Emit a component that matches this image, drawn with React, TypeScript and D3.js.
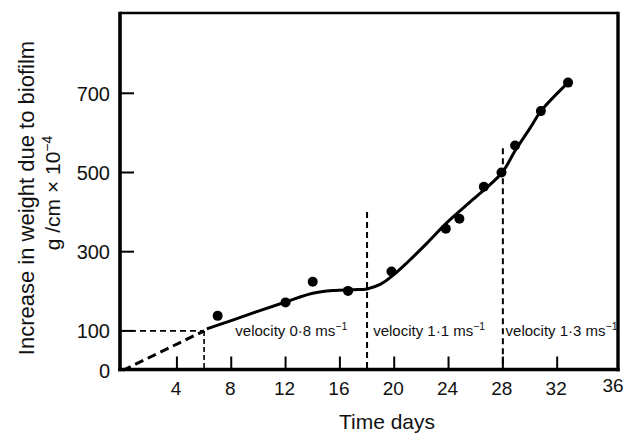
import React from "react";
import * as d3 from "d3";

// Measured data points (day, increase in weight g/cm x 10^-4)
const pointDays = [7, 12, 14, 16.6, 19.8, 23.8, 24.8, 26.6, 27.9, 28.9, 30.8, 32.8];
const pointWeights = [138, 172, 224, 201, 250, 358, 383, 464, 500, 568, 655, 727];

// Smooth fitted curve
const curveDays = [6.2, 8, 10, 12, 14, 15.5, 17, 18, 19, 20, 21, 22.4, 23.9, 25.8, 27.9, 28.9, 30, 30.8, 32.8];
const curveWeights = [105, 126, 150, 173, 195, 202, 204, 206, 218, 243, 274, 321, 374, 432, 498, 555, 612, 655, 727];

// Extrapolated start (dashed)
const startDays = [0, 6];
const startWeights = [0, 100];

// Velocity change boundaries
const boundaryDays = [18, 28];
const boundaryTops = [400, 561];

const xTickValues = [4, 8, 12, 16, 20, 24, 28, 32];
const xTickLabels = [4, 8, 12, 16, 20, 24, 28, 32, 36];
const yTickValues = [100, 300, 500, 700];
const yTickLabels = [0, 100, 300, 500, 700];

const velocityLabels = ["velocity 0·8 ms", "velocity 1·1 ms", "velocity 1·3 ms"];
const velocityDays = [8.3, 18.45, 28.2];

const W = 637;
const H = 438;
const FONT = "'Liberation Sans', Arial, Helvetica, sans-serif";

export default function App() {
  const x = d3.scaleLinear().domain([0, 36]).range([122.6, 611.5]);
  const y = d3.scaleLinear().domain([0, 700]).range([370.5, 93.3]);

  const frame = { left: 120, right: 618, top: 13, bottom: 369.5 };

  const curve = d3
    .line<number>()
    .x((_, i) => x(curveDays[i]))
    .y((d) => y(d))
    .curve(d3.curveCatmullRom.alpha(0.5));

  const startLine = d3
    .line<number>()
    .x((_, i) => x(startDays[i]))
    .y((d) => y(d));

  return (
    <svg
      width={W}
      height={H}
      style={{ position: "absolute", left: 0, top: 0, background: "#fff" }}
      fontFamily={FONT}
    >
      <rect x={0} y={0} width={W} height={H} fill="#fff" />

      {/* frame */}
      <line x1={frame.left} y1={frame.top} x2={frame.right} y2={frame.top} stroke="#000" strokeWidth={2.6} />
      <line x1={frame.right} y1={frame.top - 1.3} x2={frame.right} y2={frame.bottom + 1.8} stroke="#000" strokeWidth={3.4} />
      <line x1={frame.left} y1={frame.top - 1.3} x2={frame.left} y2={frame.bottom + 1.8} stroke="#000" strokeWidth={3.6} />
      <line x1={frame.left - 1.8} y1={frame.bottom} x2={frame.right + 1.7} y2={frame.bottom} stroke="#000" strokeWidth={3.6} />

      {/* y ticks */}
      {yTickValues.map((v) => (
        <line key={"yt" + v} x1={frame.left} x2={frame.left + 14} y1={y(v)} y2={y(v)} stroke="#000" strokeWidth={2} />
      ))}
      {yTickLabels.map((v) => (
        <text key={"yl" + v} x={110} y={y(v)} dy="0.36em" textAnchor="end" fontSize={20} fill="#111">
          {v}
        </text>
      ))}

      {/* x ticks */}
      {xTickValues.map((d) => (
        <line key={"xt" + d} x1={x(d)} x2={x(d)} y1={frame.bottom} y2={frame.bottom - 13} stroke="#000" strokeWidth={2} />
      ))}
      {xTickLabels.map((d) => (
        <text key={"xl" + d} x={x(d) + (d === 36 ? 1.5 : -1)} y={d === 36 ? 391.5 : 395} textAnchor="middle" fontSize={19} fill="#111">
          {d}
        </text>
      ))}

      {/* dashed guide lines at day 6 / weight 100 */}
      <line x1={frame.left} x2={x(6)} y1={y(100)} y2={y(100)} stroke="#000" strokeWidth={1.6} strokeDasharray="6 4" />
      <line x1={x(6)} x2={x(6)} y1={y(100)} y2={y(0)} stroke="#000" strokeWidth={1.6} strokeDasharray="5 3" />
      <path d={startLine(startWeights) || ""} fill="none" stroke="#000" strokeWidth={3} strokeDasharray="9 5" />

      {/* velocity boundaries */}
      {boundaryDays.map((d, i) => (
        <line
          key={"b" + d}
          x1={x(d)}
          x2={x(d)}
          y1={y(boundaryTops[i])}
          y2={y(0)}
          stroke="#000"
          strokeWidth={2}
          strokeDasharray="6 4"
        />
      ))}

      {/* fitted curve */}
      <path d={curve(curveWeights) || ""} fill="none" stroke="#000" strokeWidth={3} strokeLinejoin="round" />

      {/* data points */}
      {pointDays.map((d, i) => (
        <circle key={"p" + i} cx={x(d)} cy={y(pointWeights[i])} r={5} fill="#000" />
      ))}

      {/* velocity labels */}
      {velocityLabels.map((t, i) => (
        <text key={"v" + i} x={x(velocityDays[i])} y={336} fontSize={15} fill="#111">
          {t}
          <tspan dy={-6} fontSize={10.5}>
            −1
          </tspan>
        </text>
      ))}

      {/* axis titles */}
      <text x={387} y={429} textAnchor="middle" fontSize={21} fill="#111">
        Time days
      </text>
      <text transform="translate(33.5,198) rotate(-90)" textAnchor="middle" fontSize={22} fill="#111">
        Increase in weight due to biofilm
      </text>
      <text transform="translate(60,193) rotate(-90)" textAnchor="middle" fontSize={21} fill="#111">
        g /cm × 10
        <tspan dy={-8} fontSize={14}>
          −4
        </tspan>
      </text>
    </svg>
  );
}
